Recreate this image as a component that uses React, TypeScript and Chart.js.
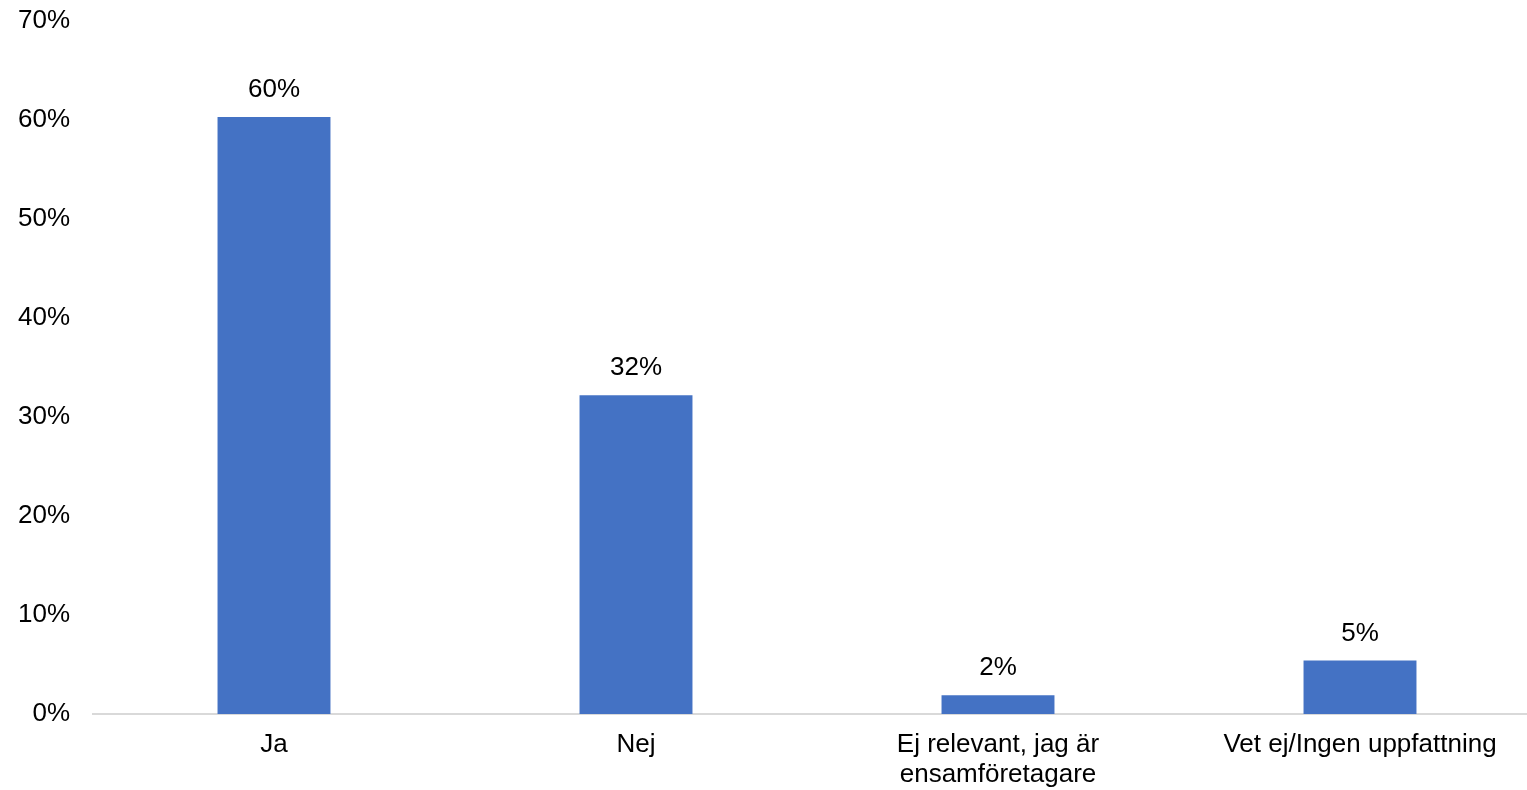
import React, { useEffect, useRef } from "react";
import { Chart, registerables } from "chart.js";

Chart.register(...registerables);

const categories: (string | string[])[] = [
  "Ja",
  "Nej",
  ["Ej relevant, jag är", "ensamföretagare"],
  "Vet ej/Ingen uppfattning",
];
const values: number[] = [60.3, 32.2, 1.9, 5.4];
const valueLabels: string[] = ["60%", "32%", "2%", "5%"];
const yTicks: number[] = [0, 10, 20, 30, 40, 50, 60, 70];

const FONT = "'Liberation Sans', Arial, sans-serif";

const dataLabelPlugin = {
  id: "dataLabels",
  afterDatasetsDraw(chart: any) {
    const ctx = chart.ctx;
    const meta = chart.getDatasetMeta(0);
    ctx.save();
    ctx.font = `26px ${FONT}`;
    ctx.fillStyle = "#000000";
    ctx.textAlign = "center";
    ctx.textBaseline = "middle";
    meta.data.forEach((bar: any, i: number) => {
      ctx.fillText(valueLabels[i], bar.x, bar.y - 27);
    });
    ctx.restore();
  },
};

export default function App() {
  const ref = useRef<HTMLCanvasElement | null>(null);

  useEffect(() => {
    document.body.style.margin = "0";
    if (!ref.current) return;
    const chart = new Chart(ref.current, {
      type: "bar",
      data: {
        labels: categories,
        datasets: [
          {
            data: values,
            backgroundColor: "#4472C4",
            barPercentage: 0.312,
            categoryPercentage: 1,
          },
        ],
      },
      options: {
        animation: false,
        responsive: false,
        maintainAspectRatio: false,
        layout: { padding: { top: 21, left: 0, right: 0, bottom: 0 } },
        plugins: {
          legend: { display: false },
          tooltip: { enabled: false },
        },
        scales: {
          x: {
            grid: { display: false, drawTicks: false },
            border: { display: true, color: "#D9D9D9", width: 2 },
            ticks: {
              color: "#000000",
              font: { family: FONT, size: 26, lineHeight: 1.15 },
              padding: 16,
              maxRotation: 0,
              autoSkip: false,
            },
            afterFit: (s: any) => {
              s.height = 76;
              s.paddingLeft = 0;
              s.paddingRight = 0;
            },
          },
          y: {
            min: 0,
            max: 70,
            grid: { display: false, drawTicks: false },
            border: { display: false },
            afterBuildTicks: (s: any) => {
              s.ticks = yTicks.map((v) => ({ value: v }));
            },
            ticks: {
              color: "#000000",
              font: { family: FONT, size: 26 },
              padding: 23,
              callback: (v: any) => `${v}%`,
            },
            afterFit: (s: any) => {
              s.width = 93;
              s.paddingTop = 0;
              s.paddingBottom = 0;
            },
          },
        },
      },
      plugins: [dataLabelPlugin],
    });
    return () => chart.destroy();
  }, []);

  return (
    <div style={{ position: "fixed", left: 0, top: 0, width: 1527, height: 790, overflow: "hidden" }}>
      <canvas ref={ref} width={1541} height={790} style={{ width: 1541, height: 790 }} />
    </div>
  );
}
